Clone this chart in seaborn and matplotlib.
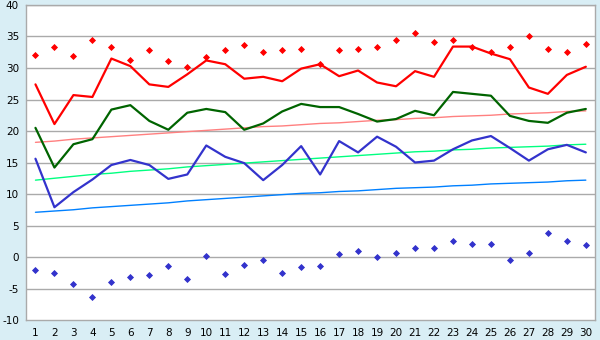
import pandas as pd
import matplotlib
matplotlib.use("Agg")
import matplotlib.pyplot as plt
import seaborn as sns

# Data
days = list(range(1, 31))

red_line = [27.4, 21.1, 25.7, 25.4, 31.5, 30.3, 27.4, 27.0, 29.0, 31.2,
            30.6, 28.3, 28.6, 27.9, 29.9, 30.6, 28.7, 29.6, 27.7, 27.1,
            29.5, 28.6, 33.4, 33.4, 32.3, 31.4, 26.9, 25.9, 28.9, 30.2]
green_line = [20.5, 14.2, 17.9, 18.7, 23.4, 24.1, 21.6, 20.2, 22.9, 23.5,
              23.0, 20.2, 21.2, 23.1, 24.3, 23.8, 23.8, 22.7, 21.5, 21.9,
              23.2, 22.5, 26.2, 25.9, 25.6, 22.4, 21.6, 21.3, 22.9, 23.5]
blue_line = [15.6, 7.9, 10.3, 12.3, 14.6, 15.4, 14.6, 12.4, 13.1, 17.7,
             15.9, 14.9, 12.2, 14.6, 17.6, 13.1, 18.4, 16.6, 19.1, 17.5,
             15.0, 15.3, 17.1, 18.5, 19.2, 17.3, 15.3, 17.1, 17.8, 16.6]
red_points = [32.0, 33.3, 31.9, 34.4, 33.3, 31.2, 32.8, 31.1, 30.1, 31.7,
              32.8, 33.6, 32.5, 32.8, 33.0, 30.6, 32.8, 33.0, 33.3, 34.5,
              35.5, 34.1, 34.5, 33.4, 32.5, 33.3, 35.0, 33.0, 32.5, 33.8]
blue_points = [-2.1, -2.6, -4.3, -6.4, -4.0, -3.2, -2.9, -1.5, -3.5, 0.1,
               -2.7, -1.3, -0.4, -2.6, -1.6, -1.5, 0.4, 0.9, 0.0, 0.6,
               1.5, 1.5, 2.5, 2.0, 2.0, -0.5, 0.6, 3.8, 2.6, 1.9]
red_trend = [18.2, 18.4, 18.7, 18.9, 19.1, 19.3, 19.5, 19.7, 19.9, 20.1,
             20.3, 20.5, 20.7, 20.8, 21.0, 21.2, 21.3, 21.5, 21.7, 21.8,
             22.0, 22.1, 22.3, 22.4, 22.5, 22.7, 22.8, 22.9, 23.1, 23.2]
green_trend = [12.2, 12.5, 12.8, 13.1, 13.3, 13.6, 13.8, 14.0, 14.3, 14.5,
               14.7, 14.9, 15.1, 15.3, 15.5, 15.7, 15.9, 16.1, 16.3, 16.5,
               16.7, 16.8, 17.0, 17.1, 17.3, 17.4, 17.5, 17.6, 17.8, 17.9]
blue_trend = [7.1, 7.3, 7.5, 7.8, 8.0, 8.2, 8.4, 8.6, 8.9, 9.1,
              9.3, 9.5, 9.7, 9.9, 10.1, 10.2, 10.4, 10.5, 10.7, 10.9,
              11.0, 11.1, 11.3, 11.4, 11.6, 11.7, 11.8, 11.9, 12.1, 12.2]

sns.set_style("white")
plt.rcParams["font.family"] = ["DejaVu Sans"]
plt.rcParams["axes.unicode_minus"] = False

bg = "#d9eef5"
grid = "#aaaaaa"

fig = plt.figure(figsize=(6, 3.4), dpi=100, facecolor=bg)
ax = fig.add_axes([0.0433, 0.0588, 0.9489, 0.9265])
ax.set_facecolor("white")

# Grid lines
for v in range(-5, 41, 5):
    ax.axhline(v, color=grid, lw=1, zorder=0)

# Trend lines (thin)
sns.lineplot(x=days, y=red_trend, color="#ff8080", lw=1, ax=ax)
sns.lineplot(x=days, y=green_trend, color="#00ff80", lw=1, ax=ax)
sns.lineplot(x=days, y=blue_trend, color="#0080ff", lw=1, ax=ax)

# Main lines
sns.lineplot(x=days, y=red_line, color="#ff0000", lw=1.6, ax=ax)
sns.lineplot(x=days, y=green_line, color="#006400", lw=1.6, ax=ax)
sns.lineplot(x=days, y=blue_line, color="#3333cc", lw=1.6, ax=ax)

# Points
sns.scatterplot(x=days, y=red_points, color="#ff0000", marker="D", s=9,
                linewidth=0.6, edgecolor="#ff0000", ax=ax, zorder=5)
sns.scatterplot(x=days, y=blue_points, color="#3333cc", marker="D", s=9,
                linewidth=0.6, edgecolor="#3333cc", ax=ax, zorder=5)

ax.set_xlim(0.5, 30.5)
ax.set_ylim(-10, 40)
ax.set_xticks(days)
ax.set_xticklabels([str(d) for d in days])
ax.set_yticks(range(-10, 41, 5))

for s in ax.spines.values():
    s.set_color(grid)
    s.set_linewidth(1)

ax.tick_params(axis="both", length=4, width=1, color="#888888",
               labelsize=7.5, labelcolor="black", pad=2, direction="out")
ax.tick_params(axis="y", pad=1)

fig.savefig("out.png", dpi=100, facecolor=bg)
